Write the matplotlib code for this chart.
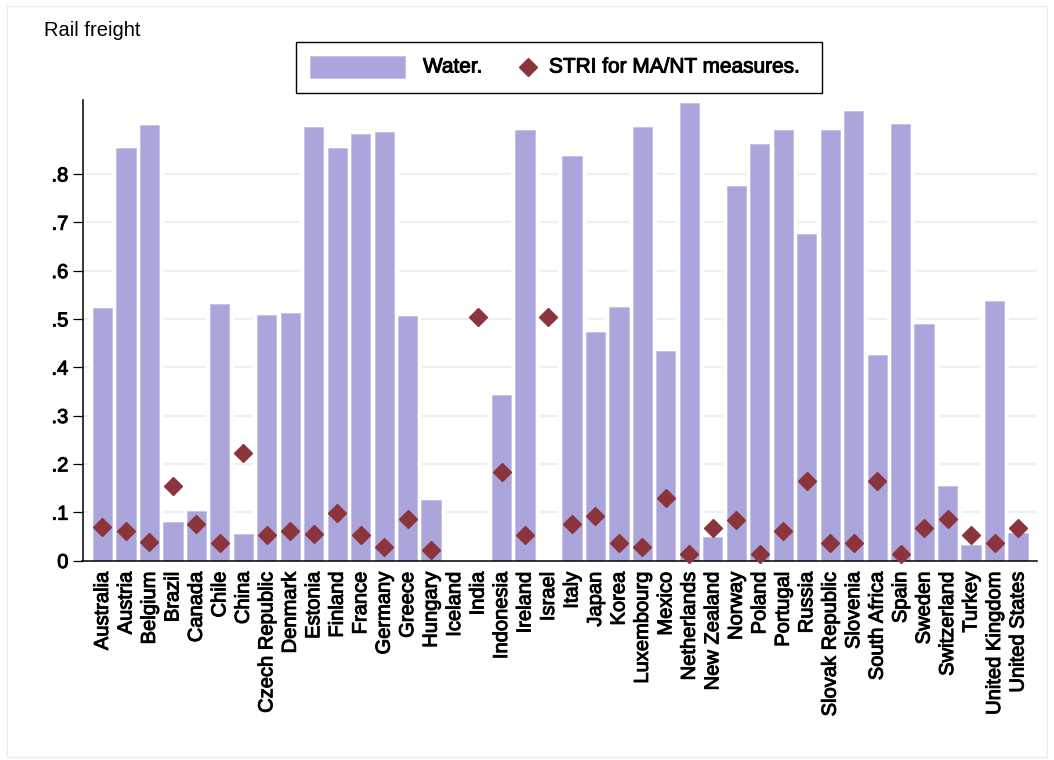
import numpy as np
import matplotlib
matplotlib.use("Agg")
import matplotlib.pyplot as plt
from matplotlib.patches import Rectangle
from matplotlib.lines import Line2D
import matplotlib.patheffects as pe

nan = np.nan
countries = ["Australia", "Austria", "Belgium", "Brazil", "Canada", "Chile", "China",
             "Czech Republic", "Denmark", "Estonia", "Finland", "France", "Germany",
             "Greece", "Hungary", "Iceland", "India", "Indonesia", "Ireland", "Israel",
             "Italy", "Japan", "Korea", "Luxembourg", "Mexico", "Netherlands",
             "New Zealand", "Norway", "Poland", "Portugal", "Russia", "Slovak Republic",
             "Slovenia", "South Africa", "Spain", "Sweden", "Switzerland", "Turkey",
             "United Kingdom", "United States"]
water = [0.522, 0.853, 0.902, 0.079, 0.103, 0.531, 0.055, 0.508, 0.513, 0.897,
         0.853, 0.883, 0.886, 0.506, 0.126, nan, nan, 0.342, 0.891, nan,
         0.838, 0.473, 0.525, 0.897, 0.433, 0.947, 0.049, 0.776, 0.861, 0.891,
         0.676, 0.890, 0.930, 0.425, 0.903, 0.490, 0.155, 0.032, 0.536, 0.057]
stri = [0.069, 0.061, 0.038, 0.154, 0.076, 0.037, 0.222, 0.053, 0.061, 0.055,
        0.099, 0.053, 0.028, 0.085, 0.021, nan, 0.504, 0.184, 0.052, 0.504,
        0.076, 0.092, 0.037, 0.028, 0.130, 0.014, 0.068, 0.083, 0.014, 0.062,
        0.164, 0.037, 0.037, 0.165, 0.014, 0.068, 0.086, 0.052, 0.037, 0.068]
yticks = [0, 0.1, 0.2, 0.3, 0.4, 0.5, 0.6, 0.7, 0.8]
ytick_labels = ["0", ".1", ".2", ".3", ".4", ".5", ".6", ".7", ".8"]
title = "Rail freight"
legend_labels = ["Water.", "STRI for MA/NT measures."]

BAR = "#aaa6dc"
DIA = "#8c343c"
GRID = "#e9f1f2"

plt.rcParams['font.family'] = ['Liberation Sans', 'DejaVu Sans']

W, H = 1054, 760
fig = plt.figure(figsize=(W / 100, H / 100), dpi=100)
fig.patch.set_facecolor("white")

heavy = [pe.withStroke(linewidth=0.7, foreground="black")]

def fx(px):
    return px / W

def fy(py):
    return 1 - py / H

ax = fig.add_axes([fx(82.5), fy(560.5), fx(1037) - fx(82.5), fy(99.5) - fy(560.5)])
x = np.arange(len(countries))
ax.set_xlim(-0.85, len(countries) - 1 + 0.81)
ax.set_ylim(0, 0.954)

for t in yticks[1:]:
    ax.axhline(t, color=GRID, lw=1.6, zorder=0.5)

wv = np.array(water, dtype=float)
mask = ~np.isnan(wv)
ax.bar(x[mask], wv[mask], width=0.82, color="white", edgecolor="white",
       linewidth=6.5, zorder=1.5)
ax.bar(x[mask], wv[mask], width=0.82, color=BAR, edgecolor="#c4c0ea",
       linewidth=0.6, zorder=1.6)

sv = np.array(stri, dtype=float)
m2 = ~np.isnan(sv)
ax.plot(x[m2], sv[m2], linestyle="none", marker="D", markersize=9.6,
        color=DIA, markeredgecolor=DIA, zorder=3, clip_on=False)

for s in ["top", "right"]:
    ax.spines[s].set_visible(False)
ax.spines["left"].set_linewidth(1.1)
ax.spines["bottom"].set_linewidth(1.1)

ax.set_yticks(yticks)
ax.set_yticklabels(ytick_labels, fontsize=14.5)
ax.tick_params(axis="y", direction="out", length=7.2, width=0.9, pad=3.0)
ax.set_xticks(x)
ax.set_xticklabels(countries, rotation=90, fontsize=14.5)
ax.tick_params(axis="x", length=0, pad=8)
for lab in ax.get_xticklabels() + ax.get_yticklabels():
    lab.set_path_effects(heavy)

fig.text(fx(44), fy(31), title, fontsize=14.5, ha="left", va="center")

# legend box (drawn manually)
fig.patches.append(Rectangle((fx(296), fy(93)), fx(822) - fx(296), fy(42) - fy(93),
                             transform=fig.transFigure, facecolor="white",
                             edgecolor="black", linewidth=1.0))
fig.patches.append(Rectangle((fx(310), fy(77.5)), fx(405) - fx(310), fy(55.5) - fy(77.5),
                             transform=fig.transFigure, facecolor=BAR,
                             edgecolor="#c4c0ea", linewidth=0.6))
t1 = fig.text(fx(423), fy(67), legend_labels[0], fontsize=15, ha="left", va="center")
fig.lines.append(Line2D([fx(528)], [fy(67)], transform=fig.transFigure,
                        marker="D", markersize=9.6, color=DIA, linestyle="none"))
t2 = fig.text(fx(549), fy(67), legend_labels[1], fontsize=15, ha="left", va="center")
t1.set_path_effects(heavy)
t2.set_path_effects(heavy)

# faint outer frame
fig.patches.append(Rectangle((fx(7), fy(757)), fx(1047) - fx(7), fy(6) - fy(757),
                             transform=fig.transFigure, facecolor="none",
                             edgecolor="#e8eef0", linewidth=1.0))

fig.savefig("out.png", dpi=100)
